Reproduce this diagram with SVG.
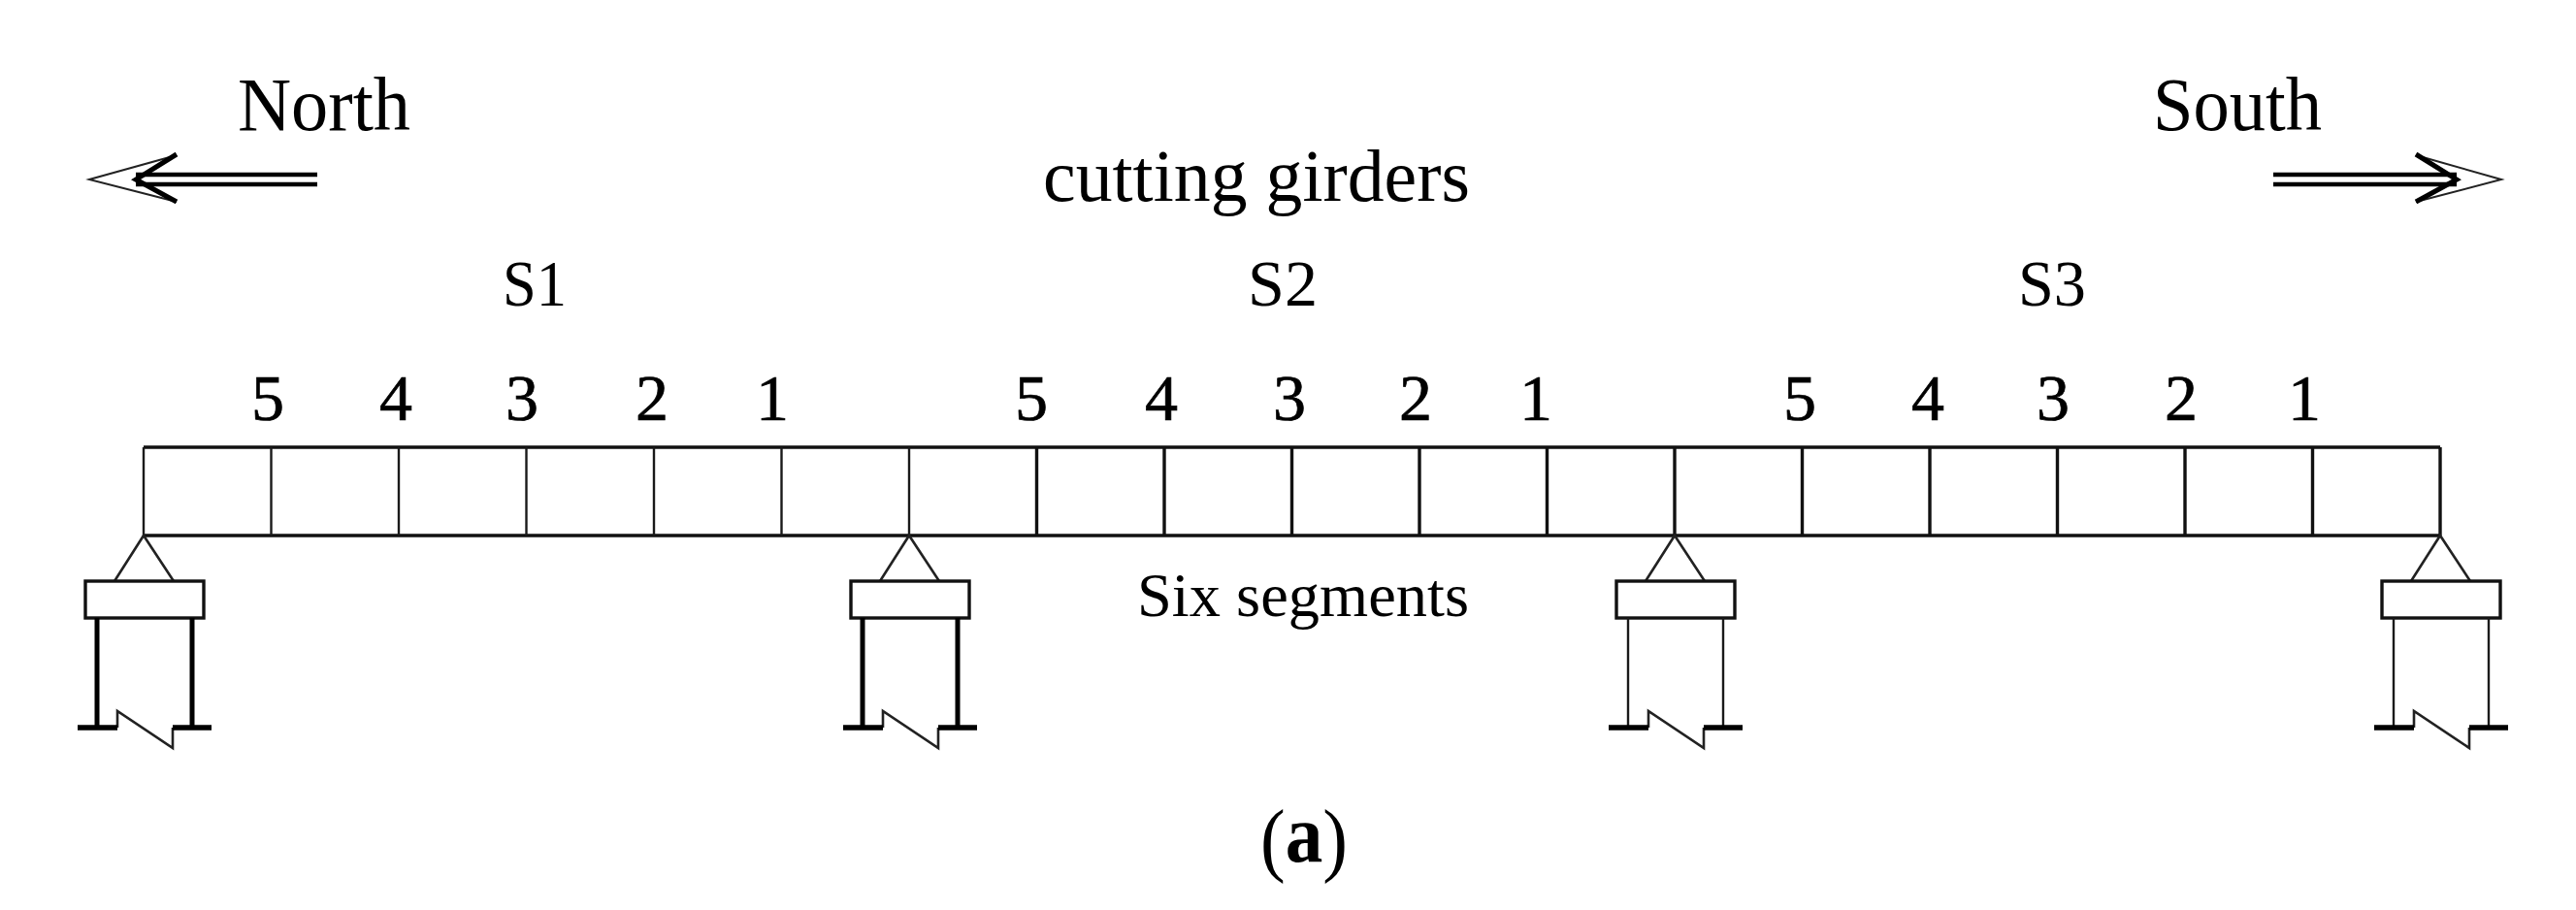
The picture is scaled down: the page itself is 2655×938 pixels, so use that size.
<svg xmlns="http://www.w3.org/2000/svg" width="2655" height="938" viewBox="0 0 2655 938">
<defs>
<style>
text{font-family:"Liberation Serif","Times New Roman",serif;fill:#000}
.l{font-size:78px}.m{font-size:76px}.s{font-size:68px}.d{font-size:68px;text-anchor:middle;stroke:#000;stroke-width:.7}.c{font-size:64px}
.ln{fill:none;stroke:#1a1a1a;stroke-width:2.4}
.th{fill:none;stroke:#111;stroke-width:3.4}
.hv{fill:none;stroke:#000;stroke-width:5}
.ft{fill:none;stroke:#000;stroke-width:5.5}
.zg{fill:none;stroke:#222;stroke-width:2.6}
.ar{fill:none;stroke:#000;stroke-width:4.5}
.bb{fill:none;stroke:#000;stroke-width:5}
.hd{fill:none;stroke:#222;stroke-width:2}
</style>
<g id="sup">
<path class="zg" d="M-30 599L0 552L31 599"/>
<rect class="th" x="-60" y="599" width="122" height="38"/>
<path class="zg" d="M-27 750V733L30 771V750"/>
</g>
</defs>
<rect width="2655" height="938" fill="#fff"/>
<g id="connectors">
<g id="arrow-north">
<path class="ar" d="M327 180H140M327 190H140"/>
<path class="hd" d="M182 160L92 185L182 208"/>
<path class="bb" d="M182 159L140 185L182 208"/>
</g>
<g id="arrow-south">
<path class="ar" d="M2343 180H2532M2343 190H2532"/>
<path class="hd" d="M2490 160L2578 185L2490 208"/>
<path class="bb" d="M2490 159L2532 185L2490 208"/>
</g>
</g>
<g id="girder">
<path class="th" d="M148 461H2515M148 552H2515"/>
<path class="ln" d="M148 461V552M279.500 461V552M411 461V552M542.500 461V552M674 461V552M805.500 461V552M937 461V552"/>
<path class="th" d="M1068.500 461V552M1200 461V552M1331.500 461V552M1463 461V552M1594.500 461V552M1726 461V552M1857.500 461V552M1989 461V552M2120.500 461V552M2252 461V552M2383.500 461V552M2515 461V552"/>
</g>
<g id="support-1" transform="translate(148 0)">
<use href="#sup"/>
<path class="hv" d="M-48 637V750M50 637V750"/>
<path class="ft" d="M-68 750H-27M30 750H70"/>
</g>
<g id="support-2" transform="translate(937 0)">
<use href="#sup"/>
<path class="hv" d="M-48 637V750M50 637V750"/>
<path class="ft" d="M-68 750H-27M30 750H70"/>
</g>
<g id="support-3" transform="translate(1726 0)">
<use href="#sup"/>
<path class="ln" d="M-48 637V750M50 637V750"/>
<path class="ft" d="M-68 750H-27M30 750H70"/>
</g>
<g id="support-4" transform="translate(2515 0)">
<use href="#sup"/>
<path class="ln" d="M-48 637V750M50 637V750"/>
<path class="ft" d="M-68 750H-27M30 750H70"/>
</g>
<g id="labels">
<text class="l" x="245" y="134" textLength="178" lengthAdjust="spacingAndGlyphs">North</text>
<text class="l" x="2219" y="134" textLength="174" lengthAdjust="spacingAndGlyphs">South</text>
<text class="m" x="1075" y="207" textLength="440" lengthAdjust="spacingAndGlyphs">cutting girders</text>
<text class="s" x="518" y="315" textLength="66" lengthAdjust="spacingAndGlyphs">S1</text>
<text class="s" x="1286" y="315" textLength="72" lengthAdjust="spacingAndGlyphs">S2</text>
<text class="s" x="2080" y="315" textLength="70" lengthAdjust="spacingAndGlyphs">S3</text>
<text class="d" x="276" y="433">5</text><text class="d" x="408" y="433">4</text><text class="d" x="538" y="433">3</text><text class="d" x="672" y="433">2</text><text class="d" x="796" y="433">1</text>
<text class="d" x="1063" y="433">5</text><text class="d" x="1197" y="433">4</text><text class="d" x="1329" y="433">3</text><text class="d" x="1459" y="433">2</text><text class="d" x="1583" y="433">1</text>
<text class="d" x="1855" y="433">5</text><text class="d" x="1987" y="433">4</text><text class="d" x="2116" y="433">3</text><text class="d" x="2248" y="433">2</text><text class="d" x="2375" y="433">1</text>
<text class="c" x="1172" y="635" textLength="342" lengthAdjust="spacingAndGlyphs">Six segments</text>
<text x="1299" y="888" font-size="84" textLength="90" lengthAdjust="spacingAndGlyphs"><tspan dy="5">(</tspan><tspan dy="-5" font-weight="bold">a</tspan><tspan dy="5">)</tspan></text>
</g>
</svg>
